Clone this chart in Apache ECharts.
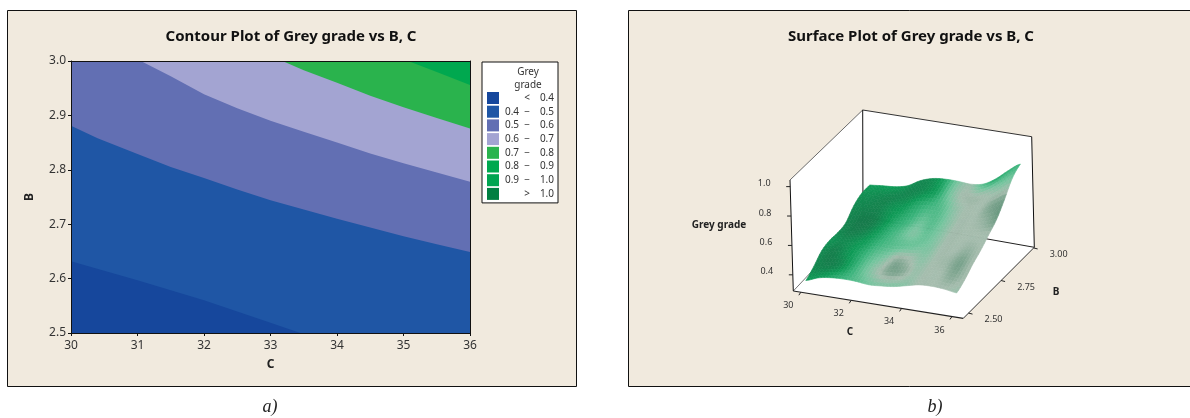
<!DOCTYPE html>
<html><head><meta charset="utf-8">
<style>html,body{margin:0;padding:0;background:#fff}#c{width:1190px;height:418px}</style>
<script src="https://cdn.jsdelivr.net/npm/echarts@6/dist/echarts.min.js"></script>
</head><body><div id="c"></div>
<script>
// ---------- contour plot data: band boundaries as [C, B] ----------
const edge04 = [[30,2.632],[31,2.597],[32,2.56],[33,2.519],[33.45,2.5],[36,2.5]];
const edge05 = [[30,2.881],[30.4,2.858],[31,2.829],[31.5,2.805],[32,2.785],[32.5,2.764],[33,2.744],[33.5,2.727],[34,2.71],[34.5,2.694],[35,2.678],[35.5,2.663],[36,2.649]];
const edge06 = [[30,3],[31.05,3],[31.5,2.972],[32,2.939],[32.5,2.913],[33,2.89],[33.5,2.87],[34,2.85],[34.5,2.83],[35,2.812],[35.5,2.795],[36,2.778]];
const edge07 = [[30,3],[33.18,3],[33.5,2.983],[34,2.96],[34.5,2.936],[35,2.915],[35.5,2.895],[36,2.876]];
const edge08 = [[30,3],[35.07,3],[35.5,2.98],[36,2.956]];
const edgeTop = [[30,3],[36,3]];
const bandNames = ['< 0.4','0.4 − 0.5','0.5 − 0.6','0.6 − 0.7','0.7 − 0.8','0.8 − 0.9','0.9 − 1.0','> 1.0'];
const bandColors = ['#16479c','#1f56a5','#626fb3','#a3a4d2','#2ab34d','#00a84f','#00a551','#007f41'];
const bandEdges = [edge04,edge05,edge06,edge07,edge08,edgeTop,[],[]];

// ---------- surface plot data ----------
const surfaceC = [30,30.5,31,31.5,32,32.5,33,33.5,34,34.5,35,35.5,36];
const surfaceB = [2.5,2.5625,2.625,2.6875,2.75,2.8125,2.875,2.9375,3];
const grade = [
 [.333,.365,.38,.385,.383,.374,.38,.39,.41,.43,.435,.43,.417],
 [.37,.39,.40,.41,.41,.41,.415,.425,.44,.455,.46,.455,.45],
 [.42,.43,.44,.44,.44,.44,.45,.46,.47,.48,.485,.49,.50],
 [.435,.44,.45,.46,.47,.47,.48,.49,.50,.51,.52,.53,.54],
 [.43,.44,.46,.47,.49,.50,.51,.52,.53,.54,.55,.57,.59],
 [.44,.45,.47,.49,.51,.53,.54,.55,.56,.57,.59,.61,.64],
 [.50,.50,.51,.53,.55,.58,.59,.59,.59,.61,.63,.67,.72],
 [.53,.53,.53,.55,.59,.62,.63,.63,.63,.64,.68,.74,.81],
 [.53,.54,.548,.57,.62,.65,.66,.66,.655,.67,.72,.79,.85]];
const shade = [
 [2,2,3,4,5,6,6.5,6.5,7,8,8,8,7.5],
 [1,.5,1,3,5.5,7.5,9,8.8,7.5,8,8,8.8,8],
 [1,.5,1.5,3,5,6.5,8.5,8,7,8,8.3,9.2,8],
 [1.5,1,1.5,2.5,4,5,5.5,6,6.5,8,8,8.5,8],
 [1,.5,.7,2,3.5,5,6.5,5.5,6.5,8,8,8,8],
 [.7,.2,.3,1.5,3,4,5.5,5,6.5,8,8,8.5,9.4],
 [1,.7,.7,1.5,2,3,4,5,7,8,8,9,9.2],
 [1.5,1.2,.8,.8,.8,1.2,2.5,6,8,8,7.5,6.5,6],
 [2,2,2,1.5,1,1.2,2.8,6,7.5,5,3,3.5,4]];
const tickC = [30,32,34,36];
const tickB = [2.5,2.75,3];
const tickZ = [0.4,0.6,0.8,1.0];

// ---------- 3D view ----------
const rangeC=[29.7,36.45], rangeB=[2.46,3.005], rangeZ=[0.29,1.045];
const view = {
  f00:[793.3,291], f10:[963.3,318.3], f11:[1034.3,247.3], f01:[863,217],
  t00:[790,180],   t10:[960,210],     t11:[1031.7,136.7], t01:[862.7,110]
};
function project(c,b,z){
  const u=(c-rangeC[0])/(rangeC[1]-rangeC[0]), v=(b-rangeB[0])/(rangeB[1]-rangeB[0]), w=(z-rangeZ[0])/(rangeZ[1]-rangeZ[0]);
  const mix=(k)=>{
    const fl=(1-u)*(1-v)*view.f00[k]+u*(1-v)*view.f10[k]+u*v*view.f11[k]+(1-u)*v*view.f01[k];
    const tp=(1-u)*(1-v)*view.t00[k]+u*(1-v)*view.t10[k]+u*v*view.t11[k]+(1-u)*v*view.t01[k];
    return fl*(1-w)+tp*w;
  };
  return [mix(0),mix(1)];
}
const [C0,C1]=rangeC,[B0,B1]=rangeB,[Z0,Z1]=rangeZ;

// smooth sampling of the read grids, for drawing only
function cr(p0,p1,p2,p3,t){return 0.5*(2*p1+(p2-p0)*t+(2*p0-5*p1+4*p2-p3)*t*t+(3*p1-p0-3*p2+p3)*t*t*t);}
function sample(g,r,q){
  const R=g.length-1,Q=g[0].length-1;
  const i=Math.min(Math.floor(r),R-1),j=Math.min(Math.floor(q),Q-1),tr=r-i,tq=q-j;
  const at=(a,b)=>g[Math.max(0,Math.min(R,a))][Math.max(0,Math.min(Q,b))];
  const row=[-1,0,1,2].map(d=>cr(at(i+d,j-1),at(i+d,j),at(i+d,j+1),at(i+d,j+2),tq));
  return cr(row[0],row[1],row[2],row[3],tr);
}
const ramp=[[23,120,74],[14,154,86],[60,180,124],[116,197,158],[166,189,174],[90,143,116]];
function rampColor(s){
  const x=Math.max(0,Math.min(9.999,s))/2,i=Math.floor(x),t=x-i;
  const c=[0,1,2].map(k=>Math.round(ramp[i][k]+(ramp[i+1][k]-ramp[i][k])*t));
  return 'rgb('+c.join(',')+')';
}
const SUB=4, quads=[];
const nR=surfaceB.length-1,nQ=surfaceC.length-1;
function surfPt(r,q){
  const c=surfaceC[0]+(surfaceC[nQ]-surfaceC[0])*q/nQ, b=surfaceB[0]+(surfaceB[nR]-surfaceB[0])*r/nR;
  return project(c,b,sample(grade,r,q));
}
for(let a=nR*SUB-1;a>=0;a--){for(let d=0;d<nQ*SUB;d++){
  const r=a/SUB,r2=(a+1)/SUB,q=d/SUB,q2=(d+1)/SUB;
  quads.push({pts:[surfPt(r,q),surfPt(r,q2),surfPt(r2,q2),surfPt(r2,q)],
    color:rampColor(sample(shade,(r+r2)/2,(q+q2)/2))});
}}

const walls=[
 [[C0,B0,Z0],[C0,B1,Z0],[C0,B1,Z1],[C0,B0,Z1]],
 [[C0,B1,Z0],[C1,B1,Z0],[C1,B1,Z1],[C0,B1,Z1]],
 [[C0,B0,Z0],[C1,B0,Z0],[C1,B1,Z0],[C0,B1,Z0]]
];
const backLines=[
 {a:[C0,B0,Z1],b:[C0,B1,Z1],color:'#6b6b6b',w:1},
 {a:[C0,B1,Z1],b:[C1,B1,Z1],color:'#333',w:1},
 {a:[C0,B1,Z0],b:[C0,B1,Z1],color:'#111',w:1},
 {a:[C1,B1,Z0],b:[C1,B1,Z1],color:'#111',w:1},
 {a:[C0,B1,Z0],b:[C1,B1,Z0],color:'#222',w:1},
 {a:[C0,B0,Z0],b:[C0,B1,Z0],color:'#777',w:1},
 {a:[C0,B0,Z0],b:[C0,B0,Z1],color:'#111',w:1},
 {a:[C0,B0,Z0],b:[C1,B0,Z0],color:'#222',w:1.2},
 {a:[C1,B0,Z0],b:[C1,B1,Z0],color:'#333',w:1}
];
const tickItems=[
 ...tickC.map(v=>({p:[v,B0,Z0],d:[-2,3],l:[-12.5,13.5],t:String(v)})),
 ...tickB.map(v=>({p:[C1,v,Z0],d:[4,1],l:[25,6.5],t:v.toFixed(2)})),
 ...tickZ.map(v=>({p:[C0,B0,v],d:[-4,0],l:[-26,-3],t:v.toFixed(1)}))
];

const font='"Noto Sans"';
const poly=(pts,api,style)=>({type:'polygon',shape:{points:pts.map(p=>api.coord(p))},style});
const bands=bandNames.map((n,i)=>({
  name:n,type:'line',xAxisIndex:0,yAxisIndex:0,data:bandEdges[i],showSymbol:false,symbol:'none',
  smooth:false,silent:true,z:2+(7-i)*0.01,
  lineStyle:{width:0},itemStyle:{color:bandColors[i]},
  areaStyle:{color:bandColors[i],opacity:1,origin:'start'}
})).reverse();

const option={
  animation:false,
  textStyle:{fontFamily:font},
  title:[
    {text:'Contour Plot of Grey grade vs B, C',left:286,top:24,textAlign:'center',textStyle:{fontFamily:font,fontSize:15,fontWeight:'bold',color:'#111'}},
    {text:'Surface Plot of Grey grade vs B, C',left:906,top:24,textAlign:'center',textStyle:{fontFamily:font,fontSize:15,fontWeight:'bold',color:'#111'}}
  ],
  grid:[
    {left:71,top:61,width:399,height:272,containLabel:false},
    {left:0,top:0,right:0,bottom:0,containLabel:false}
  ],
  xAxis:[
    {type:'value',gridIndex:0,min:30,max:36,interval:1,position:'bottom',z:5,name:'C',nameLocation:'middle',nameGap:26,
     nameTextStyle:{fontWeight:'bold',fontSize:12,color:'#222'},
     axisLine:{onZero:false,lineStyle:{color:'#111'}},axisTick:{show:true,length:3,lineStyle:{color:'#111'}},
     axisLabel:{color:'#333',fontSize:12,margin:7,showMinLabel:true,showMaxLabel:true},splitLine:{show:false}},
    {type:'value',gridIndex:0,min:30,max:36,position:'top',z:5,
     axisLine:{onZero:false,lineStyle:{color:'#111'}},axisTick:{show:false},axisLabel:{show:false},splitLine:{show:false}},
    {type:'value',gridIndex:1,min:0,max:1190,show:false}
  ],
  yAxis:[
    {type:'value',gridIndex:0,min:2.5,max:3,interval:0.1,position:'left',z:5,name:'B',nameLocation:'middle',nameGap:35,
     nameTextStyle:{fontWeight:'bold',fontSize:12,color:'#222'},
     axisLine:{onZero:false,lineStyle:{color:'#111'}},axisTick:{show:true,length:3,lineStyle:{color:'#111'}},
     axisLabel:{color:'#333',fontSize:12,margin:5,formatter:v=>v.toFixed(1),showMinLabel:true,showMaxLabel:true},splitLine:{show:false}},
    {type:'value',gridIndex:0,min:2.5,max:3,position:'right',z:5,
     axisLine:{onZero:false,lineStyle:{color:'#111'}},axisTick:{show:false},axisLabel:{show:false},splitLine:{show:false}},
    {type:'value',gridIndex:1,min:0,max:418,inverse:true,show:false}
  ],
  legend:{
    orient:'vertical',left:482,top:62,data:bandNames,icon:'rect',itemWidth:12,itemHeight:12,itemGap:1.7,
    padding:[30,4,3,5],backgroundColor:'#fff',borderColor:'#111',borderWidth:1,borderRadius:0,selectedMode:false,
    formatter:n=>{const p=n.split(' ');return p.length===3?`{a|${p[0]}}{b|${p[1]}}{c|${p[2]}}`:`{a| }{b|${p[0]}}{c|${p[1]}}`;},
    textStyle:{color:'#333',fontSize:10,rich:{
      a:{width:16,align:'right',fontSize:10,color:'#333',lineHeight:12},
      b:{width:14,align:'center',fontSize:10,color:'#333',lineHeight:12},
      c:{width:20,align:'right',fontSize:10,color:'#333',lineHeight:12}}}
  },
  graphic:[
    {type:'rect',z:0,shape:{x:7.5,y:10.5,width:569,height:376},style:{fill:'#f1eade',stroke:'#111',lineWidth:1}},
    {type:'rect',z:0,shape:{x:628.5,y:10.5,width:570,height:376},style:{fill:'#f1eade',stroke:'#111',lineWidth:1}},
    {type:'text',z:10,x:528,y:72,style:{text:'Grey',align:'center',verticalAlign:'middle',font:'10px '+font,fill:'#333'}},
    {type:'text',z:10,x:528,y:85,style:{text:'grade',align:'center',verticalAlign:'middle',font:'10px '+font,fill:'#333'}},
    {type:'text',z:10,x:719,y:225,style:{text:'Grey grade',align:'center',verticalAlign:'middle',font:'bold 10px '+font,fill:'#222'}},
    {type:'text',z:10,x:850,y:332,style:{text:'C',align:'center',verticalAlign:'middle',font:'bold 10px '+font,fill:'#222'}},
    {type:'text',z:10,x:1056,y:292,style:{text:'B',align:'center',verticalAlign:'middle',font:'bold 10px '+font,fill:'#222'}},
    {type:'text',z:10,x:270,y:407,style:{text:'a)',align:'center',verticalAlign:'middle',font:'italic 18px "Liberation Serif"',fill:'#222'}},
    {type:'text',z:10,x:935,y:407,style:{text:'b)',align:'center',verticalAlign:'middle',font:'italic 18px "Liberation Serif"',fill:'#222'}}
  ],
  series:[
    ...bands,
    {type:'custom',xAxisIndex:2,yAxisIndex:2,z:2,silent:true,clip:false,data:walls.map((w,i)=>i),
     renderItem:(p,api)=>poly(walls[p.dataIndex].map(q=>project(...q)),api,{fill:'#fff',stroke:null})},
    {type:'custom',xAxisIndex:2,yAxisIndex:2,z:3,silent:true,clip:false,data:backLines.map((w,i)=>i),
     renderItem:(p,api)=>{const l=backLines[p.dataIndex],a=api.coord(project(...l.a)),b=api.coord(project(...l.b));
       return {type:'line',shape:{x1:a[0],y1:a[1],x2:b[0],y2:b[1]},style:{stroke:l.color,lineWidth:l.w}};}},
    {type:'custom',xAxisIndex:2,yAxisIndex:2,z:4,silent:true,clip:false,data:quads.map((q,i)=>i),progressive:0,
     renderItem:(p,api)=>{const q=quads[p.dataIndex];return poly(q.pts,api,{fill:q.color,stroke:q.color,lineWidth:0.6});}},
    {type:'custom',xAxisIndex:2,yAxisIndex:2,z:5,silent:true,clip:false,data:tickItems.map((t,i)=>i),
     renderItem:(p,api)=>{const t=tickItems[p.dataIndex],a=api.coord(project(...t.p));
       return {type:'group',children:[
         {type:'line',shape:{x1:a[0],y1:a[1],x2:a[0]+t.d[0],y2:a[1]+t.d[1]},style:{stroke:'#222',lineWidth:1}},
         {type:'text',x:a[0]+t.l[0],y:a[1]+t.l[1],style:{text:t.t,align:'center',verticalAlign:'middle',font:'9px '+font,fill:'#333'}}
       ]};}}
  ]
};
const chart=echarts.init(document.getElementById('c'),null,{renderer:'canvas'});
chart.setOption(option);
</script></body></html>
